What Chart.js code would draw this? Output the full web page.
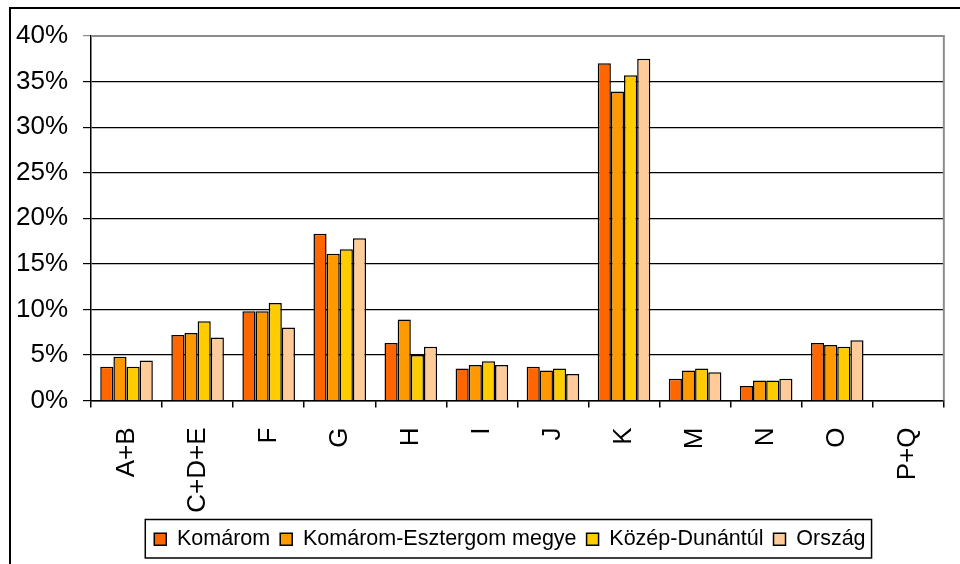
<!DOCTYPE html>
<html>
<head>
<meta charset="utf-8">
<script src="https://cdn.jsdelivr.net/npm/chart.js@4/dist/chart.umd.min.js"></script>
<style>
  html, body { margin: 0; padding: 0; background: #fff; overflow: hidden; }
  canvas { display: block; }
</style>
</head>
<body>
<canvas id="c" width="960" height="564"></canvas>
<script>
const categories = ["A+B", "C+D+E", "F", "G", "H", "I", "J", "K", "M", "N", "O", "P+Q"];
const seriesNames = ["Komárom", "Komárom-Esztergom megye", "Közép-Dunántúl", "Ország"];
const komarom  = [3.7, 7.2, 9.8, 18.3, 6.3, 3.5, 3.7, 37.0, 2.4, 1.6, 6.3, 0];
const megye    = [4.8, 7.4, 9.8, 16.1, 8.9, 3.9, 3.3, 33.9, 3.3, 2.2, 6.1, 0];
const kozep    = [3.7, 8.7, 10.7, 16.6, 5.0, 4.3, 3.5, 35.7, 3.5, 2.2, 5.9, 0];
const orszag   = [4.4, 6.9, 8.0, 17.8, 5.9, 3.9, 2.9, 37.5, 3.1, 2.4, 6.6, 0];
const yTicks   = [0, 5, 10, 15, 20, 25, 30, 35, 40];
const colors   = ["#FF6600", "#FF9900", "#FFCC00", "#FFCC99"];

const FONT = "'Liberation Sans', Arial, sans-serif";

const frame = {
  id: 'frame',
  beforeDraw(chart) {
    const ctx = chart.ctx;
    ctx.save();
    ctx.fillStyle = '#fff';
    ctx.fillRect(0, 0, chart.width, chart.height);
    ctx.strokeStyle = '#000';
    ctx.lineWidth = 2;
    ctx.strokeRect(10, 8, 2000, 2000);
    ctx.restore();
    // centre the legend under the plot like the original
    const lg = chart.legend;
    if (lg && lg.legendHitBoxes) {
      const tops = lg.legendHitBoxes.map(h => h.top);
      lg.left = 76;
      lg.right = chart.chartArea.right;
      lg.adjustHitBoxes();
      lg.legendHitBoxes.forEach((h, i) => { h.top = tops[i]; });
    }
  },
  afterDraw(chart) {
    const ctx = chart.ctx;
    const a = chart.chartArea;
    ctx.save();
    ctx.strokeStyle = '#8c8c8c';
    ctx.lineWidth = 2;
    ctx.beginPath();
    ctx.moveTo(a.left, a.top);
    ctx.lineTo(a.right, a.top);
    ctx.lineTo(a.right, a.bottom);
    ctx.stroke();
    const hb = chart.legend.legendHitBoxes;
    if (hb && hb.length) {
      let l = Infinity, r = -Infinity, t = Infinity, b = -Infinity;
      hb.forEach(h => { l = Math.min(l, h.left); r = Math.max(r, h.left + h.width); t = Math.min(t, h.top); b = Math.max(b, h.top + h.height); });
      ctx.strokeStyle = '#000';
      ctx.lineWidth = 1.5;
      ctx.strokeRect(l - 9, t - 9, (r + 6) - (l - 9), (b + 8) - (t - 9));
    }
    ctx.restore();
  }
};

const datasets = [komarom, megye, kozep, orszag].map((d, i) => ({
  label: seriesNames[i],
  data: d,
  backgroundColor: colors[i],
  borderColor: '#000',
  borderWidth: 1.5,
  categoryPercentage: 0.74,
  barPercentage: 1.0
}));

new Chart(document.getElementById('c'), {
  type: 'bar',
  data: { labels: categories, datasets },
  plugins: [frame],
  options: {
    responsive: false,
    animation: false,
    devicePixelRatio: 1,
    layout: { padding: { top: 36, left: 0, right: 12, bottom: 4 } },
    plugins: {
      tooltip: { enabled: false },
      legend: {
        position: 'bottom',
        labels: {
          color: '#000',
          font: { family: FONT, size: 21.5 },
          boxWidth: 12,
          boxHeight: 12,
          padding: 10
        }
      }
    },
    scales: {
      x: {
        afterFit(s) { s.height = 118; },
        border: { display: true, color: '#000', width: 1.5 },
        grid: { display: true, drawOnChartArea: false, drawTicks: true, tickLength: 7, color: '#000', lineWidth: 1.5, offset: true },
        ticks: { color: '#000', font: { family: FONT, size: 26 }, minRotation: 90, maxRotation: 90, autoSkip: false, padding: 20 }
      },
      y: {
        min: 0, max: 40,
        afterFit(s) { s.width = 91; },
        afterBuildTicks(s) { s.ticks = yTicks.map(v => ({ value: v })); },
        border: { display: true, color: '#000', width: 1.5 },
        grid: {
          color: c => (c.tick && c.tick.value === 40) ? '#8c8c8c' : '#000',
          lineWidth: 1.2,
          tickLength: 8,
          drawTicks: true
        },
        ticks: { color: '#000', font: { family: FONT, size: 26 }, padding: 15, callback: v => v + '%' }
      }
    }
  }
});
</script>
</body>
</html>
